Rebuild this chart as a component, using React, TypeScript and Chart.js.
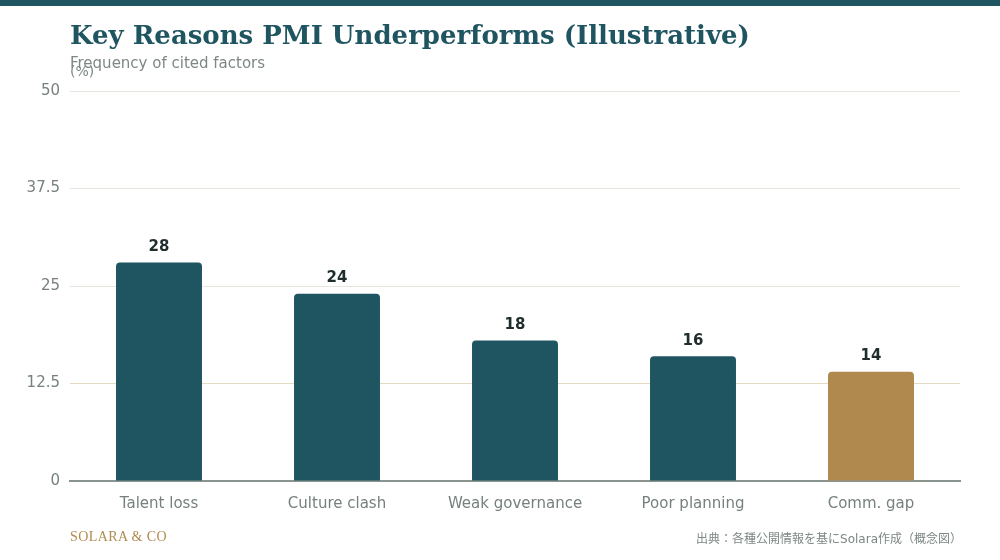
import { useEffect, useRef } from 'react';
import Chart from 'chart.js/auto';

const categories = ['Talent loss', 'Culture clash', 'Weak governance', 'Poor planning', 'Comm. gap'];
const values = [28, 24, 18, 16, 14];
const barColors = ['#1f5561', '#1f5561', '#1f5561', '#1f5561', '#b0894e'];
const yTicks = [0, 12.5, 25, 37.5, 50];

const TEAL = '#1f5561';
const SANS = '"DejaVu Sans", sans-serif';

// draws the bold value above each bar
const valueLabels = {
  id: 'valueLabels',
  afterDatasetsDraw(chart: any) {
    const ctx = chart.ctx;
    const meta = chart.getDatasetMeta(0);
    ctx.save();
    ctx.font = `bold 15px ${SANS}`;
    ctx.fillStyle = '#1f2d2d';
    ctx.textAlign = 'center';
    ctx.textBaseline = 'bottom';
    meta.data.forEach((bar: any, i: number) => {
      ctx.fillText(String(values[i]), bar.x, bar.y - 8);
    });
    ctx.restore();
  },
};

export default function App() {
  const canvasRef = useRef<HTMLCanvasElement | null>(null);
  const chartRef = useRef<Chart | null>(null);

  useEffect(() => {
    document.body.style.margin = '0';
    if (!canvasRef.current) return;
    if (chartRef.current) chartRef.current.destroy();

    chartRef.current = new Chart(canvasRef.current, {
      type: 'bar',
      data: {
        labels: categories,
        datasets: [
          {
            data: values,
            backgroundColor: barColors,
            borderRadius: 4,
            borderSkipped: 'bottom',
            barPercentage: 0.483,
            categoryPercentage: 1,
          },
        ],
      },
      options: {
        responsive: false,
        animation: false,
        layout: { padding: { left: 0, right: 40, top: 91, bottom: 39 } },
        plugins: {
          legend: { display: false },
          tooltip: { enabled: false },
        },
        scales: {
          x: {
            afterFit: (scale: any) => {
              scale.height = 40;
            },
            grid: { display: false, drawTicks: false },
            border: { color: '#8a948f', width: 2 },
            ticks: {
              color: '#76817c',
              font: { family: SANS, size: 15 },
              padding: 14,
            },
          },
          y: {
            min: 0,
            max: 50,
            afterFit: (scale: any) => {
              scale.width = 70;
            },
            afterBuildTicks: (scale: any) => {
              scale.ticks = yTicks.map((v) => ({ value: v }));
            },
            grid: {
              drawTicks: false,
              color: (c: any) => (c.tick && c.tick.value === 12.5 ? '#e6dbc2' : '#e8e4de'),
              lineWidth: 1,
            },
            border: { display: false },
            ticks: {
              color: '#76817c',
              font: { family: SANS, size: 15 },
              padding: 10,
              callback: (v: any) => String(v),
            },
          },
        },
      },
      plugins: [valueLabels],
    });

    return () => {
      if (chartRef.current) {
        chartRef.current.destroy();
        chartRef.current = null;
      }
    };
  }, []);

  return (
    <div style={{ position: 'absolute', left: 0, top: 0, width: 1000, height: 560, background: '#fff', overflow: 'hidden' }}>
      <div style={{ position: 'absolute', left: 0, top: 0, width: 1000, height: 6, background: TEAL }} />
      <canvas ref={canvasRef} width={1000} height={560} style={{ position: 'absolute', left: 0, top: 0 }} />
      <div
        style={{
          position: 'absolute',
          left: 70,
          top: 20,
          font: 'bold 26px "DejaVu Serif", serif',
          color: TEAL,
          whiteSpace: 'nowrap',
        }}
      >
        Key Reasons PMI Underperforms (Illustrative)
      </div>
      <div style={{ position: 'absolute', left: 70, top: 54, font: `15px ${SANS}`, color: '#7d8783', whiteSpace: 'nowrap' }}>
        Frequency of cited factors
      </div>
      <div style={{ position: 'absolute', left: 70, top: 63, font: `14px ${SANS}`, color: '#7d8783' }}>(%)</div>
      <div
        style={{
          position: 'absolute',
          left: 70,
          top: 529,
          font: '14px "Liberation Serif", serif',
          color: '#b08a4f',
          letterSpacing: 0.4,
        }}
      >
        SOLARA &amp; CO
      </div>
      <div
        style={{
          position: 'absolute',
          right: 38,
          top: 529,
          font: `12px "DejaVu Sans", "Noto Sans CJK JP", sans-serif`,
          color: '#7d8783',
          whiteSpace: 'nowrap',
        }}
      >
        出典：各種公開情報を基にSolara作成（概念図）
      </div>
    </div>
  );
}
